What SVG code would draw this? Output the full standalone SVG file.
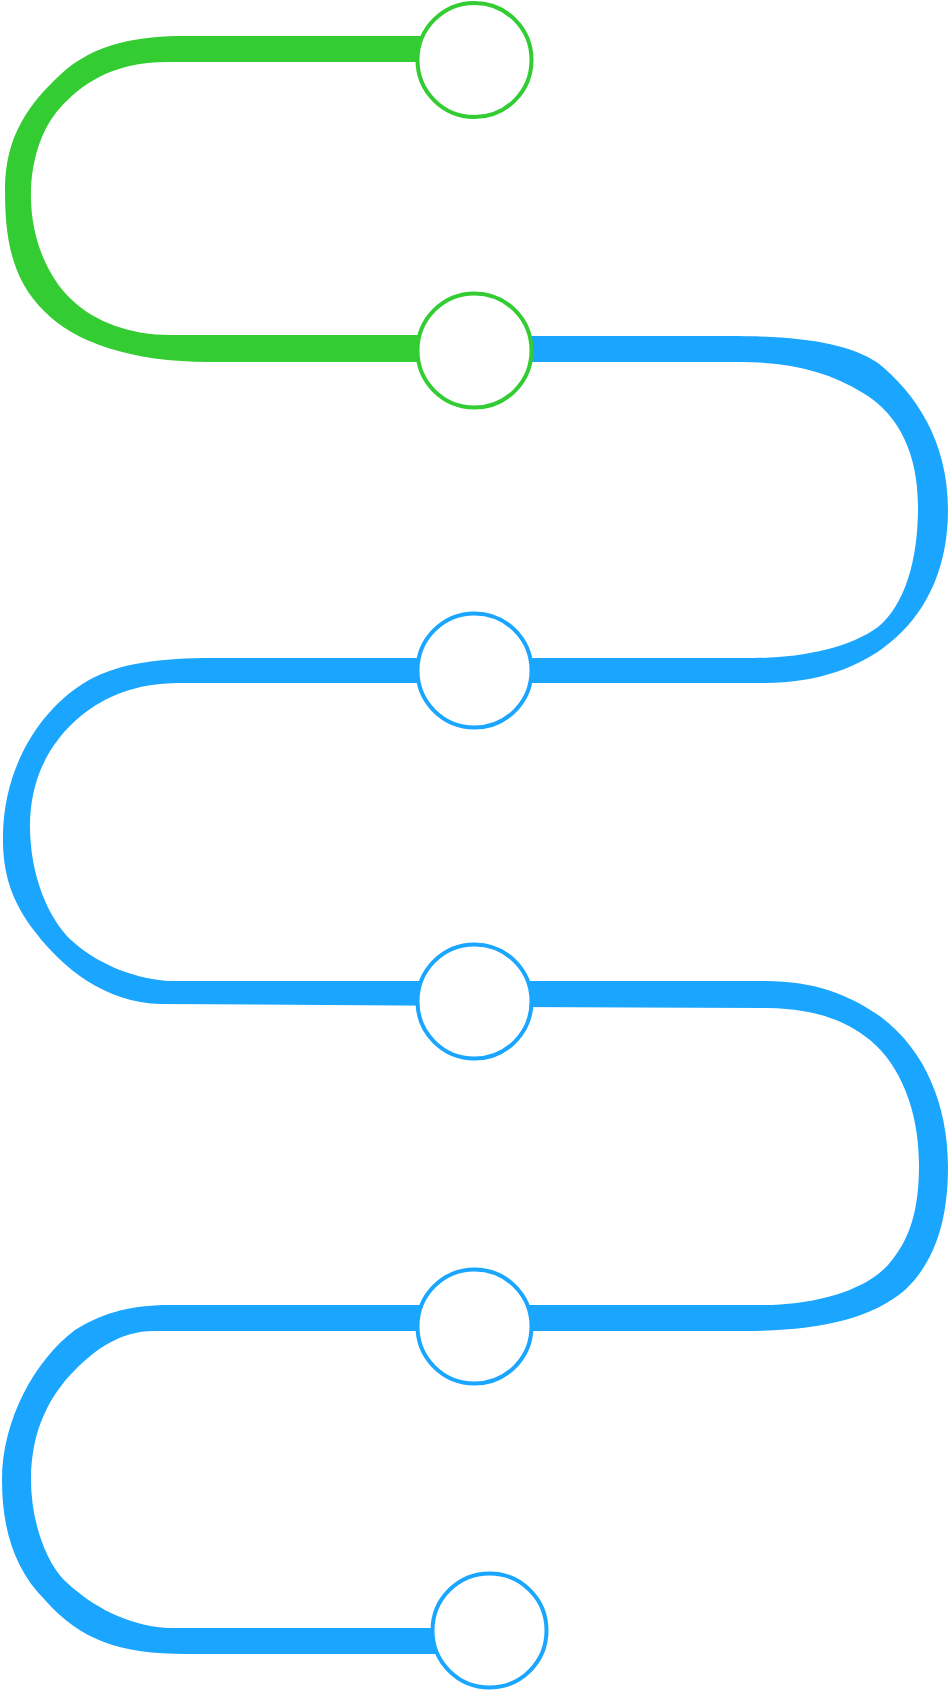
<svg xmlns="http://www.w3.org/2000/svg" width="950" height="1691" viewBox="0 0 950 1691">
<style>
.g{fill:#33cc33;stroke:none}
.b{fill:#1aa6ff;stroke:none}
.ng{fill:#ffffff;stroke:#33cc33;stroke-width:4}
.nb{fill:#ffffff;stroke:#1aa6ff;stroke-width:4}
</style>
<rect width="950" height="1691" fill="#ffffff"/>
<g id="connectors">
<path class="g" d="M 474 36 L 186 36 C 140 36, 95 42, 60 75 C 30 103, 5 135, 5 190 C 5 240, 12 280, 45 312 C 75 342, 130 362, 210 362 L 474 362 L 474 335 L 171 335 C 130 335, 95 322, 72 300 C 48 278, 32 240, 31 200 C 30 165, 40 130, 60 108 C 80 86, 110 62, 168 62 L 474 62 Z"/>
<path class="b" d="M 474 336 L 729 336 C 800 336, 848 343, 878 363 C 915 393, 948 440, 948 510 C 948 620, 870 683, 765 683 L 474 683 L 474 658 L 754 658 C 800 658, 850 648, 878 627 C 905 605, 918 560, 918 507 C 918 455, 900 415, 863 393 C 830 372, 790 362, 740 362 L 474 362 Z"/>
<path class="b" d="M 474 658 L 214 658 C 160 658, 120 663, 89 680 C 45 705, 5 760, 3 833 C 2 870, 10 900, 36 933 C 62 967, 105 1003, 161 1004 L 474 1006 L 474 981 L 168 981 C 130 978, 95 962, 71 940 C 48 918, 30 875, 30 826 C 30 785, 45 745, 82 715 C 105 697, 135 683, 179 683 L 474 683 Z"/>
<path class="b" d="M 474 981 L 765 981 C 815 981, 850 995, 881 1017 C 925 1050, 948 1105, 948 1167 C 948 1220, 935 1262, 905 1290 C 870 1320, 815 1331, 744 1331 L 474 1331 L 474 1305 L 772 1305 C 820 1303, 865 1290, 888 1265 C 910 1240, 919 1210, 919 1165 C 919 1110, 900 1065, 870 1040 C 845 1020, 815 1009, 768 1008 L 474 1007 Z"/>
<path class="b" d="M 474 1305 L 171 1305 C 125 1305, 100 1315, 75 1330 C 35 1360, 2 1420, 2 1480 C 2 1530, 15 1570, 45 1600 C 80 1640, 120 1654, 186 1654 L 489 1654 L 489 1628 L 168 1628 C 120 1625, 85 1600, 64 1580 C 45 1560, 31 1520, 31 1480 C 31 1430, 50 1395, 75 1370 C 95 1350, 120 1331, 154 1331 L 474 1331 Z"/>
</g>
<g id="node1"><circle class="ng" cx="474.5" cy="60" r="57"/></g>
<g id="node2"><circle class="ng" cx="474.5" cy="350.5" r="57"/></g>
<g id="node3"><circle class="nb" cx="474.5" cy="670.5" r="57"/></g>
<g id="node4"><circle class="nb" cx="474.5" cy="1001.5" r="57"/></g>
<g id="node5"><circle class="nb" cx="474.5" cy="1326.5" r="57"/></g>
<g id="node6"><circle class="nb" cx="489.5" cy="1630.5" r="57"/></g>
</svg>
